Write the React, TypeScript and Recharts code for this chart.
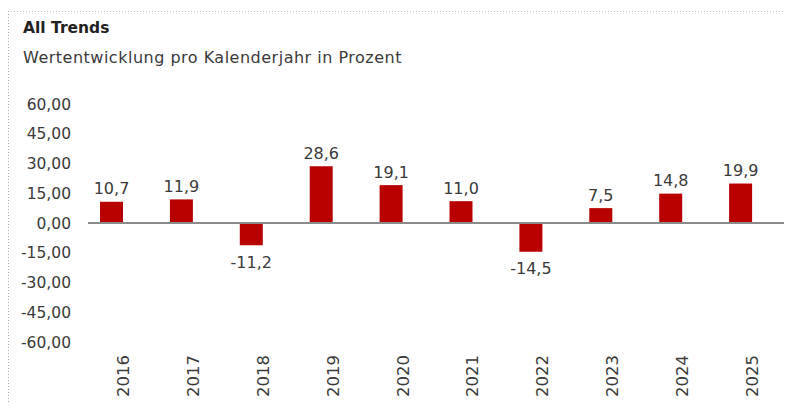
import React from "react";
import {
  BarChart,
  Bar,
  XAxis,
  YAxis,
  ReferenceLine,
  LabelList,
} from "recharts";

const years = ["2016", "2017", "2018", "2019", "2020", "2021", "2022", "2023", "2024", "2025"];
const returns = [10.7, 11.9, -11.2, 28.6, 19.1, 11.0, -14.5, 7.5, 14.8, 19.9];
const yTicks = [-60, -45, -30, -15, 0, 15, 30, 45, 60];

const data = years.map((year, i) => ({ year, value: returns[i] }));

const FONT = "'DejaVu Sans', sans-serif";
const TEXT = "#3a3a3a";
const RED = "#B80000";
const DOTS = "repeating-linear-gradient(to bottom, #a8a8a8 0 1px, transparent 1px 3px)";
const DOTS_H = "repeating-linear-gradient(to right, #bdbdbd 0 1px, transparent 1px 3px)";

const fmt = (v: number, d: number) => v.toFixed(d).replace(".", ",");

// year labels sit a bit to the right of the bars, like the original
const YearTick = (props: any) => {
  const { x, y, payload } = props;
  const tx = x + 11.5;
  const ty = y + 11;
  return (
    <text
      x={tx}
      y={ty}
      transform={`rotate(-90, ${tx}, ${ty})`}
      textAnchor="end"
      dominantBaseline="central"
      fontFamily={FONT}
      fontSize={16.5}
      fill={TEXT}
    >
      {payload.value}
    </text>
  );
};

const ValueLabel = (props: any) => {
  const { x, y, width, height, value } = props;
  const top = Math.min(y, y + height);
  const bottom = Math.max(y, y + height);
  const cy = value >= 0 ? top - 13 : bottom + 17;
  return (
    <text
      x={x + width / 2}
      y={cy}
      textAnchor="middle"
      dominantBaseline="central"
      fontFamily={FONT}
      fontSize={16}
      fill={TEXT}
    >
      {fmt(value, 1)}
    </text>
  );
};

const ZeroLine = (props: any) => {
  const { x1, y1, x2, y2 } = props;
  return <line x1={x1 + 11} y1={y1} x2={x2 + 11} y2={y2} stroke="#8a8a8a" strokeWidth={2} />;
};

export default function App() {
  return (
    <div style={{ position: "relative", width: 792, height: 411, margin: -8, overflow: "hidden", background: "#fff" }}>
      <div style={{ position: "absolute", left: 0, top: 0 }}>
        <BarChart
          width={792}
          height={411}
          data={data}
          margin={{ top: 104, right: 16, bottom: 0, left: 0 }}
          barSize={23}
        >
          <XAxis
            dataKey="year"
            axisLine={false}
            tickLine={false}
            tickSize={0}
            height={69}
            interval={0}
            tick={<YearTick />}
          />
          <YAxis
            domain={[-60, 60]}
            ticks={yTicks}
            width={77}
            axisLine={false}
            tickLine={false}
            tickSize={0}
            tickMargin={6}
            tickFormatter={(v: number) => fmt(v, 2)}
            tick={{ fontFamily: FONT, fontSize: 15.5, fill: TEXT }}
          />
          <ReferenceLine y={0} shape={<ZeroLine />} />
          <Bar dataKey="value" fill={RED} isAnimationActive={false}>
            <LabelList dataKey="value" content={<ValueLabel />} />
          </Bar>
        </BarChart>
      </div>
      {/* dotted frame: left and top edges only are visible */}
      <div style={{ position: "absolute", left: 8, top: 11, width: 1, height: 400, background: DOTS }} />
      <div style={{ position: "absolute", left: 8, top: 11, width: 784, height: 1, background: DOTS_H }} />
      <div
        style={{
          position: "absolute",
          left: 23,
          top: 19,
          fontFamily: FONT,
          fontWeight: "bold",
          fontSize: 15.5,
          color: "#222",
        }}
      >
        All Trends
      </div>
      <div
        style={{
          position: "absolute",
          left: 23,
          top: 48,
          fontFamily: FONT,
          fontSize: 16,
          letterSpacing: 0.5,
          color: TEXT,
        }}
      >
        Wertentwicklung pro Kalenderjahr in Prozent
      </div>
    </div>
  );
}
